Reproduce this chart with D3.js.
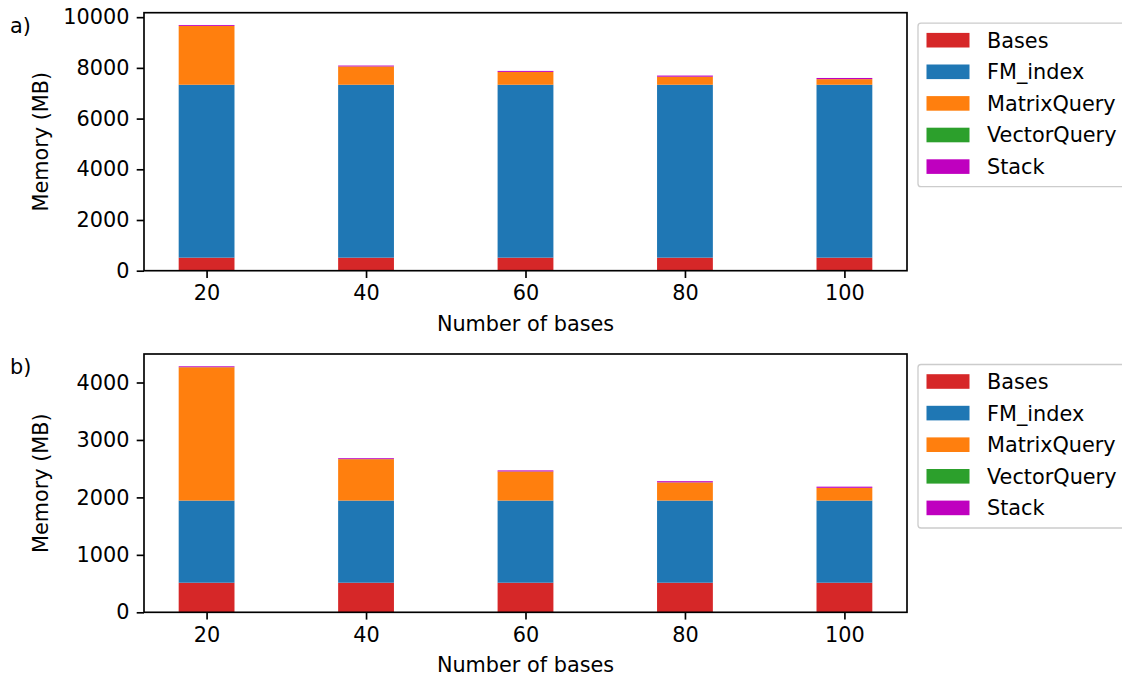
<!DOCTYPE html>
<html>
<head>
<meta charset="utf-8">
<script src="https://cdn.jsdelivr.net/npm/d3@7"></script>
<style>
  html, body { margin: 0; padding: 0; background: #fff; }
  svg { display: block; }
  text { font-family: "DejaVu Sans", sans-serif; fill: #000; }
</style>
</head>
<body>
<svg id="chart" width="1122" height="676"></svg>
<script>
// ---- data ----
const categories = [20, 40, 60, 80, 100];
const seriesNames = ["Bases", "FM_index", "MatrixQuery", "VectorQuery", "Stack"];
const seriesColors = ["#d62728", "#1f77b4", "#ff7f0e", "#2ca02c", "#bf00bf"];

const basesA = [515, 515, 515, 515, 515];
const fmIndexA = [6820, 6820, 6820, 6820, 6820];
const matrixQueryA = [2320, 720, 505, 315, 220];
const vectorQueryA = [2, 2, 2, 2, 2];
const stackA = [35, 35, 38, 45, 45];

const basesB = [515, 515, 515, 515, 515];
const fmIndexB = [1430, 1430, 1430, 1430, 1430];
const matrixQueryB = [2320, 720, 505, 315, 220];
const vectorQueryB = [2, 2, 2, 2, 2];
const stackB = [15, 15, 18, 20, 20];

const yTicksA = [0, 2000, 4000, 6000, 8000, 10000];
const yTicksB = [0, 1000, 2000, 3000, 4000];
const xTickLabels = ["20", "40", "60", "80", "100"];

const panelLabels = ["a)", "b)"];
const xTitle = "Number of bases";
const yTitle = "Memory (MB)";

// ---- drawing ----
const svg = d3.select("#chart");
const FS = 20.8;
const barWidth = 7;

function buildTable(arrs) {
  return categories.map((c, i) => {
    const row = { cat: c };
    seriesNames.forEach((s, j) => { row[s] = arrs[j][i]; });
    return row;
  });
}

function drawPanel(cfg) {
  const { top, bottom, left, right, arrs, yTicks, label } = cfg;
  const table = buildTable(arrs);
  const stacked = d3.stack().keys(seriesNames)(table);
  const maxTotal = d3.max(table, r => d3.sum(seriesNames, s => r[s]));

  const x = d3.scaleLinear()
    .domain([categories[0] - barWidth / 2, categories[categories.length - 1] + barWidth / 2])
    .range([left, right]);
  // matplotlib-like 5% margins
  const span = x.domain()[1] - x.domain()[0];
  x.domain([x.domain()[0] - span * 0.05, x.domain()[1] + span * 0.05]);

  const y = d3.scaleLinear().domain([0, maxTotal * 1.05]).range([bottom, top]);

  const g = svg.append("g");

  // bars
  stacked.forEach((layer, j) => {
    g.append("g").attr("fill", seriesColors[j])
      .selectAll("rect").data(layer).join("rect")
      .attr("x", d => x(d.data.cat - barWidth / 2))
      .attr("width", d => x(d.data.cat + barWidth / 2) - x(d.data.cat - barWidth / 2))
      .attr("y", d => y(d[1]))
      .attr("height", d => Math.max(0, y(d[0]) - y(d[1])));
  });

  // axes
  const xAxis = d3.axisBottom(x).tickValues(categories)
    .tickFormat((d, i) => xTickLabels[i]).tickSizeInner(7.3).tickSizeOuter(0).tickPadding(7.3);
  const gx = g.append("g").attr("transform", `translate(0,${bottom})`).call(xAxis);
  const yAxis = d3.axisLeft(y).tickValues(yTicks)
    .tickFormat(d3.format("d")).tickSizeInner(7.3).tickSizeOuter(0).tickPadding(7.3);
  const gy = g.append("g").attr("transform", `translate(${left},0)`).call(yAxis);
  [gx, gy].forEach(a => {
    a.select(".domain").remove();
    a.selectAll(".tick line").attr("stroke", "#000").attr("stroke-width", 1.67);
    a.selectAll(".tick text").style("font-size", FS + "px").attr("fill", "#000");
  });

  // frame
  g.append("rect")
    .attr("x", left).attr("y", top)
    .attr("width", right - left).attr("height", bottom - top)
    .attr("fill", "none").attr("stroke", "#000").attr("stroke-width", 1.67);

  // titles
  g.append("text")
    .attr("x", (left + right) / 2).attr("y", bottom + 60)
    .attr("text-anchor", "middle").style("font-size", FS + "px")
    .text(xTitle);
  g.append("text")
    .attr("transform", `translate(48,${(top + bottom) / 2}) rotate(-90)`)
    .attr("text-anchor", "middle").style("font-size", FS + "px")
    .text(yTitle);
  g.append("text")
    .attr("x", 10).attr("y", top + 20)
    .style("font-size", FS + "px")
    .text(label);

  // legend
  const lg = g.append("g");
  const lx = 918, ly = top + 10.5;
  lg.append("rect")
    .attr("x", lx).attr("y", ly).attr("width", 215).attr("height", 163.5)
    .attr("rx", 3).attr("fill", "#fff").attr("fill-opacity", 0.8)
    .attr("stroke", "#cccccc").attr("stroke-width", 1.3);
  seriesNames.forEach((s, j) => {
    const cy = ly + 17 + j * 31.6;
    lg.append("rect")
      .attr("x", lx + 8.5).attr("y", cy - 7.3)
      .attr("width", 43).attr("height", 14.6)
      .attr("fill", seriesColors[j]);
    lg.append("text")
      .attr("x", lx + 69).attr("y", cy)
      .attr("dy", "0.36em")
      .style("font-size", FS + "px")
      .text(s);
  });
}

drawPanel({
  top: 12.7, bottom: 270.7, left: 144, right: 907,
  arrs: [basesA, fmIndexA, matrixQueryA, vectorQueryA, stackA],
  yTicks: yTicksA, label: panelLabels[0]
});
drawPanel({
  top: 354, bottom: 612.3, left: 144, right: 907,
  arrs: [basesB, fmIndexB, matrixQueryB, vectorQueryB, stackB],
  yTicks: yTicksB, label: panelLabels[1]
});
</script>
</body>
</html>
